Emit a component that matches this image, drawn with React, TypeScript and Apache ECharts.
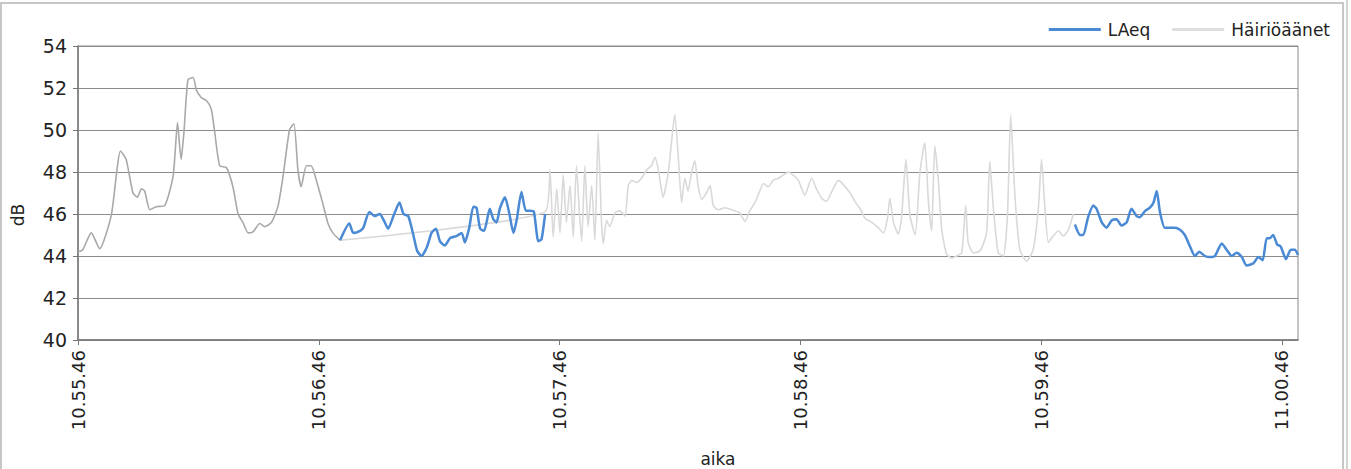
import React, { useEffect, useRef } from "react";
import * as echarts from "echarts";

// x = seconds since 10.55.46, y = dB
const tickLabels = ["10.55.46", "10.56.46", "10.57.46", "10.58.46", "10.59.46", "11.00.46"];
const tickSeconds = [0, 60, 120, 180, 240, 300];

const hairioFirst: [number, number][] = [
  [0, 44.2], [1.2, 44.3], [3.3, 45.1], [5.4, 44.35], [8.3, 45.95], [10.6, 49.0], [12, 48.6],
  [13.7, 47.0], [14.8, 46.8], [15.8, 47.2], [16.6, 47.1], [17.9, 46.2], [19.5, 46.35],
  [21.6, 46.4], [23.7, 47.8], [24.8, 50.35], [25.3, 49.3], [25.7, 48.6], [26.4, 49.9],
  [27.4, 52.4], [28.7, 52.5], [29.5, 51.9], [30.7, 51.55], [32, 51.4], [33.2, 51.0],
  [34, 50.0], [35.3, 48.3], [37, 48.2], [38.6, 47.3], [39.9, 46.0], [41.1, 45.6],
  [42.4, 45.1], [43.6, 45.15], [45.3, 45.55], [46.5, 45.4], [48.2, 45.6], [49.8, 46.35],
  [51.1, 47.8], [52.7, 50.0], [53.8, 50.3], [54.8, 48.1], [55.6, 47.3], [56.9, 48.3],
  [58.1, 48.3], [59.4, 47.6], [61, 46.5], [62.3, 45.55], [63.5, 45.1], [65.3, 44.75],
];

const hairioRest: [number, number][] = [
  [65.3, 44.75], [116.4, 46.1], [117.6, 48.1], [118.4, 44.9], [119.3, 47.2], [120.1, 45.1],
  [120.9, 47.85], [121.7, 45.6], [122.6, 47.35], [123.4, 44.9], [124.2, 48.3], [124.9, 46.2],
  [125.5, 44.7], [126.3, 48.3], [127.1, 45.4], [128, 47.35], [128.8, 44.75], [129.6, 49.85],
  [130.5, 45.4], [130.9, 44.6], [131.7, 45.7], [132.5, 45.4], [133.8, 46.05], [135, 46.15],
  [136.3, 45.9], [137.1, 47.35], [138, 47.6], [139.2, 47.5], [140.4, 47.7], [141.7, 48.1],
  [142.9, 48.3], [143.8, 48.7], [144.6, 48.1], [145.8, 46.8], [147.1, 48.0], [147.9, 49.45],
  [148.7, 50.75], [149.6, 48.65], [150.4, 46.55], [151.2, 47.7], [152, 47.1], [152.9, 48.0],
  [153.7, 48.55], [154.5, 47.35], [155.4, 46.7], [156.6, 47.0], [157.5, 47.35], [158.3, 46.4],
  [159.5, 46.2], [161.2, 46.3], [162.9, 46.2], [164.9, 46.05], [166.2, 45.65], [167.4, 46.15],
  [168.7, 46.55], [169.9, 47.1], [170.8, 47.45], [172, 47.3], [173.2, 47.6], [174.5, 47.7],
  [175.7, 47.85], [177, 48.0], [178.2, 47.85], [179.5, 47.6], [181.1, 46.9], [182.8, 47.7],
  [184, 47.2], [185.3, 46.75], [186.5, 46.6], [187.8, 47.05], [189.5, 47.6], [190.7, 47.4],
  [192.4, 47.0], [193.6, 46.6], [194.9, 46.25], [196.1, 45.8], [197.8, 45.6], [199.4, 45.35],
  [200.7, 45.1], [201.7, 45.8], [202.3, 46.75], [203.2, 45.6], [204.4, 45.05], [205.2, 45.8],
  [206.3, 48.6], [207.3, 45.95], [208.6, 45.0], [209.8, 48.0], [211, 49.4], [211.9, 46.6],
  [212.7, 45.2], [213.5, 49.25], [214.4, 47.55], [215.2, 45.3], [216.4, 44.1], [217.7, 43.9],
  [218.9, 44.0], [220.2, 44.15], [221.2, 46.4], [221.8, 44.65], [223.1, 44.15], [224.8, 44.25],
  [226.4, 45.1], [227.2, 48.5], [228.1, 46.25], [229.3, 44.15], [230.6, 44.0], [231.6, 45.95],
  [232.4, 50.7], [233.5, 46.75], [234.7, 44.3], [236.4, 43.75], [238, 44.3], [239.3, 46.25],
  [240.1, 48.6], [240.9, 46.4], [241.8, 44.65], [243, 44.95], [244.3, 45.2], [245.5, 44.95],
  [246.8, 45.25], [248, 46.0],
];

const laeq: [number, number | null][] = [
  [65.3, 44.75], [67.6, 45.55], [68.6, 45.1], [70.3, 45.2], [71.1, 45.35], [72.6, 46.1],
  [74, 45.9], [75.2, 46.0], [76.2, 45.7], [77.3, 45.3], [78.6, 45.9], [80.1, 46.55],
  [81.1, 46.0], [82.3, 45.9], [83.5, 45.05], [84.5, 44.25], [85.6, 44.0], [86.9, 44.4],
  [88.1, 45.1], [89.2, 45.3], [90.2, 44.7], [91.4, 44.5], [92.7, 44.85], [94.3, 44.95],
  [95.6, 45.1], [96.4, 44.65], [97.5, 45.35], [98.5, 46.35], [99.3, 46.3], [100.2, 45.3],
  [101.2, 45.2], [102.6, 46.25], [103.5, 45.75], [104.3, 45.6], [105.1, 46.25], [106.4, 46.8],
  [107.5, 46.0], [108.5, 45.1], [109.3, 45.7], [110.5, 47.05], [111.6, 46.15], [112.6, 46.15],
  [113.6, 46.1], [114.7, 44.7], [115.5, 44.8], [116.4, 46.0],
  [180, null],
  [248.4, 45.5], [249.7, 45.0], [250.5, 45.0], [251.7, 45.85], [253, 46.4], [253.8, 46.25],
  [255.1, 45.6], [256.3, 45.35], [257.6, 45.7], [258.8, 45.75], [260, 45.45], [261.3, 45.6],
  [262.5, 46.25], [263.8, 45.9], [264.6, 45.85], [265.9, 46.15], [267.1, 46.3], [268, 46.55],
  [268.8, 47.1], [269.6, 46.1], [270.8, 45.35], [272.1, 45.35], [273.3, 45.35], [274.6, 45.25],
  [275.8, 45.0], [277.1, 44.45], [278.3, 44.0], [279.4, 44.2], [280.8, 44.0], [282.1, 43.95],
  [283.3, 44.0], [285, 44.6], [286.2, 44.3], [287.5, 44.0], [288.7, 44.15], [290, 43.95],
  [291.2, 43.55], [292.9, 43.65], [294.1, 43.95], [295.2, 43.8], [296.2, 44.85], [297, 44.85],
  [297.8, 45.0], [298.8, 44.55], [299.7, 44.45], [301, 43.85], [302.2, 44.3], [303.2, 44.3],
  [304, 44.05],
];

const FONT = "DejaVu Sans, Verdana, sans-serif";

export default function App() {
  const ref = useRef<HTMLDivElement>(null);
  useEffect(() => {
    document.body.style.margin = "0";
    if (!ref.current) return;
    const chart = echarts.init(ref.current, undefined, { renderer: "svg" });
    chart.setOption({
      animation: false,
      backgroundColor: "#fff",
      grid: {
        left: 78, right: 53, top: 46, bottom: 129,
        outerBoundsMode: "none", containLabel: false,
        show: true, borderColor: "#8a8a8a", borderWidth: 1,
      },
      legend: {
        right: 16,
        top: 16,
        icon: "rect",
        itemWidth: 52,
        itemHeight: 3,
        itemGap: 22,
        itemStyle: {},
        textStyle: { fontFamily: FONT, fontSize: 17, color: "#222", fontWeight: 500, padding: [0, 0, 0, 2] },
        data: [
          { name: "LAeq", itemStyle: { color: "#4a8ad4" } },
          { name: "Häiriöäänet", itemStyle: { color: "#dedede" } },
        ],
      },
      xAxis: {
        type: "value",
        min: 0,
        max: 304,
        interval: 60,
        name: "aika",
        nameLocation: "middle",
        nameGap: 110,
        nameTextStyle: { fontFamily: FONT, fontSize: 17, color: "#222", padding: [0, 0, 0, 60] },
        axisLine: { show: true, lineStyle: { color: "#777", width: 1.5 } },
        axisTick: { show: true, length: 5, lineStyle: { color: "#777" }, customValues: tickSeconds },
        splitLine: { show: false },
        axisLabel: {
          rotate: 90,
          margin: 10,
          fontFamily: FONT,
          fontSize: 18,
          color: "#222",
          customValues: tickSeconds,
          formatter: (v: number) => {
            const i = tickSeconds.indexOf(v);
            return i >= 0 ? tickLabels[i] : "";
          },
        },
      },
      yAxis: {
        type: "value",
        min: 40,
        max: 54,
        interval: 2,
        name: "dB",
        nameLocation: "middle",
        nameRotate: 90,
        nameGap: 52,
        nameTextStyle: { fontFamily: FONT, fontSize: 17, color: "#222", padding: [0, 44, 0, 0] },
        axisLine: { show: true, lineStyle: { color: "#777", width: 1.5 } },
        axisTick: { show: true, length: 5, lineStyle: { color: "#777" } },
        splitLine: { show: true, lineStyle: { color: "#8c8c8c", width: 1.2 } },
        axisLabel: { margin: 11, fontFamily: FONT, fontSize: 19, color: "#222", fontWeight: 500 },
      },
      graphic: [
        { type: "rect", silent: true, shape: { x: 1, y: 3, width: 1342, height: 520 }, style: { fill: "none", stroke: "#b5b5b5", lineWidth: 1.5 } },
        { type: "line", silent: true, shape: { x1: 1347, y1: 0, x2: 1347, y2: 469 }, style: { stroke: "#c5c5c5", lineWidth: 1.5 } },
      ],
      series: [
        {
          name: "Häiriöäänet",
          type: "line",
          data: hairioRest,
          showSymbol: false,
          smooth: 0.2,
          lineStyle: { color: "#d9d9d9", width: 1.6 },
          itemStyle: { color: "#dedede" },
          z: 2,
        },
        {
          name: "Häiriöäänet",
          type: "line",
          data: hairioFirst,
          showSymbol: false,
          smooth: 0.2,
          lineStyle: { color: "#a9a9a9", width: 1.6 },
          itemStyle: { color: "#a9a9a9" },
          z: 2,
        },
        {
          name: "LAeq",
          type: "line",
          data: laeq,
          showSymbol: false,
          smooth: 0.2,
          connectNulls: false,
          lineStyle: { color: "#4a8ad4", width: 2.5 },
          itemStyle: { color: "#4a8ad4" },
          z: 3,
        },
      ],
    });
    return () => chart.dispose();
  }, []);
  return <div ref={ref} style={{ width: 1351, height: 469 }} />;
}
